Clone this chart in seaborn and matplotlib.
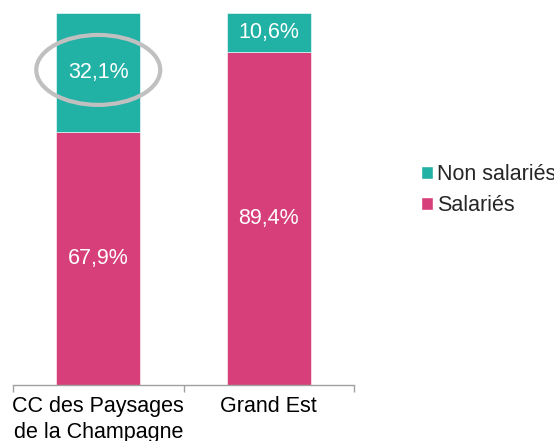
import matplotlib
matplotlib.use("Agg")
import matplotlib.pyplot as plt
import seaborn as sns
import pandas as pd
from matplotlib.patches import Ellipse, Patch

categories = ["CC des Paysages\nde la Champagne", "Grand Est"]
salaries = [67.9, 89.4]
non_salaries = [32.1, 10.6]
series_names = ["Non salariés", "Salariés"]
col_teal = "#21B1A5"
col_pink = "#D63F7A"

sns.set_theme(style="white")
plt.rcParams['font.family'] = ['Liberation Sans', 'DejaVu Sans']

FS = 15.5

fig = plt.figure(figsize=(5.54, 4.41), dpi=100)
ax = fig.add_axes([13/554, 56/441, 341/554, 372/441])

df = pd.DataFrame({"cat": categories, "sal": salaries, "non": non_salaries})
sns.barplot(data=df, x="cat", y="sal", color=col_pink, width=0.49, ax=ax,
            saturation=1, edgecolor="white", linewidth=0.4)
sns.barplot(data=df, x="cat", y="non", bottom=df["sal"], color=col_teal, width=0.49,
            ax=ax, saturation=1, edgecolor="white", linewidth=0.4)

for i, (s, n) in enumerate(zip(salaries, non_salaries)):
    ax.text(i, s / 2, f"{s:.1f}%".replace(".", ","), ha="center", va="center",
            color="white", fontsize=FS)
    ax.text(i, s + n / 2, f"{n:.1f}%".replace(".", ","), ha="center", va="center",
            color="white", fontsize=FS)

ax.add_patch(Ellipse((0.0, 84.7), 0.727, 18.8, fill=False, edgecolor="#C0C0C0",
                     linewidth=3, clip_on=False, zorder=5))

ax.set_xlim(-0.5, 1.5)
ax.set_ylim(0, 100)
ax.set_xlabel("")
ax.set_ylabel("")
ax.set_yticks([])
for sp in ["top", "right", "left"]:
    ax.spines[sp].set_visible(False)
ax.spines["bottom"].set_color("#A0A0A0")
ax.spines["bottom"].set_linewidth(1)
ax.set_xticks([0, 1])
ax.set_xticklabels(categories, fontsize=FS, color="black", linespacing=1.3)
ax.set_xticks([-0.5, 0.5, 1.5], minor=True)
ax.tick_params(axis="x", which="major", length=0, pad=8)
ax.tick_params(axis="x", which="minor", length=5, width=1, color="#A0A0A0",
               direction="out", bottom=True)

handles = [Patch(facecolor=col_teal, label=series_names[0]),
           Patch(facecolor=col_pink, label=series_names[1])]
fig.legend(handles=handles, loc="center left", bbox_to_anchor=(421/554, 1 - 190/441),
           frameon=False, fontsize=FS, handlelength=0.55, handleheight=0.55,
           handletextpad=0.2, labelspacing=0.45, borderpad=0, borderaxespad=0)

fig.savefig("out.png", dpi=100)
